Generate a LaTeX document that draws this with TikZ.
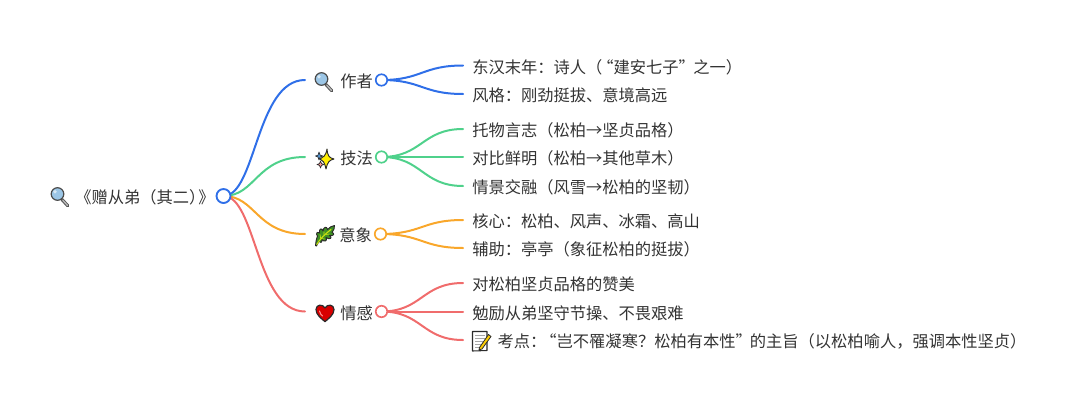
\documentclass[tikz,border=0pt]{standalone}
\usepackage{fontspec}
\setmainfont{Noto Sans CJK SC}
\usetikzlibrary{backgrounds}
\definecolor{cblue}{HTML}{2F6FE8}
\definecolor{cgreen}{HTML}{4FD18B}
\definecolor{corange}{HTML}{F9A72B}
\definecolor{cred}{HTML}{F06C6C}
\definecolor{ctext}{HTML}{333333}
\definecolor{iconline}{HTML}{2B2B2B}
\definecolor{lensblue}{HTML}{9CC6E6}
\definecolor{herbgreen}{HTML}{3F8F24}
\tikzset{
  x=0.75pt,y=-0.75pt,
  link/.style={line width=1.5pt,line cap=round},
  dotb/.style={circle,draw=#1,fill=white,line width=1.25pt,minimum size=8.6pt,inner sep=0pt},
  dotr/.style={circle,draw=#1,fill=white,line width=1.4pt,minimum size=10.5pt,inner sep=0pt},
  leaf/.style={anchor=west,inner xsep=6.75pt,inner ysep=0pt,text=ctext,text height=13.3pt,text depth=2pt,font=\fontsize{12.2pt}{14pt}\selectfont},
  branch/.style={anchor=west,inner xsep=0pt,inner ysep=0pt,text=ctext,text height=13.3pt,text depth=2pt,font=\fontsize{12.2pt}{14pt}\selectfont},
  lensicon/.pic={
    \draw[line width=2.4pt,line cap=round,draw=iconline!80] (2,2.5) -- (7.8,8.8);
    \draw[line width=1pt,line cap=round,draw=gray!55] (2.8,3.2) -- (7.5,8.4);
    \draw[line width=.9pt,draw=iconline!85,fill=lensblue] (-2.5,-3) circle[radius=6.3];
    \fill[white,opacity=.6] (-5,-5.2) circle[radius=1.9];
  },
  sparkicon/.pic={
    \draw[line width=.7pt,draw=iconline,fill=yellow!95!orange,line join=round]
      (2,-10) .. controls (2.7,-3) and (4,-1.2) .. (9,0)
      .. controls (4,1.2) and (2.7,3) .. (1,10)
      .. controls (-.5,3) and (-2,1.4) .. (-5,0)
      .. controls (-2,-1.4) and (.8,-3) .. (2,-10) -- cycle;
    \draw[line width=.5pt,draw=iconline,fill=cyan!60!blue!70,line join=round]
      (-6,-7) -- (-4.8,-3.8) -- (-2,-3) -- (-4.8,-2) -- (-6,1) -- (-7,-2) -- (-9.5,-3) -- (-7,-3.8) -- cycle;
    \draw[line width=.5pt,draw=iconline,fill=pink!80!red,line join=round]
      (-4.5,2) -- (-3.5,4.6) -- (-1,5.5) -- (-3.5,6.4) -- (-4.5,9) -- (-5.5,6.4) -- (-8,5.5) -- (-5.5,4.6) -- cycle;
  },
  herbicon/.pic={
    \draw[line width=.7pt,draw=iconline,fill=herbgreen,line join=round]
      (-9.5,9.5) .. controls (-9,5) and (-8.5,2) .. (-7.5,0)
      .. controls (-9.5,-2) and (-8,-5) .. (-5.5,-3)
      .. controls (-6.5,-7) and (-3,-9) .. (-2,-5)
      .. controls (-1.5,-9.5) and (2,-10) .. (2.5,-6.5)
      .. controls (4.5,-9) and (7,-10) .. (9.5,-10.5)
      .. controls (9.5,-8) and (9,-6) .. (7,-3.5)
      .. controls (10,-3) and (9,.5) .. (4.5,-.5)
      .. controls (8,1.5) and (5,4.5) .. (1,1.5)
      .. controls (3,5) and (-1,6.5) .. (-3,3.5)
      .. controls (-2.5,6.5) and (-5,7.5) .. (-6,5.5)
      .. controls (-7,7) and (-8,8.5) .. (-8.5,10) -- cycle;
    \draw[line width=.8pt,draw=yellow!80!green,line cap=round] (-8.3,8.5) .. controls (-5,3) and (0,-2) .. (6,-6.5);
    \draw[line width=.5pt,draw=yellow!80!green] (-4.2,3.2) -- (-5,-1.5) (-1,-.3) -- (-1,-4.5) (-3.6,2.5) -- (-.5,3) (.8,-1.5) -- (4.5,-2);
  },
  hearticon/.pic={
    \draw[line width=.9pt,draw=iconline,fill=red!85!black,line join=round]
      (0,9.2) .. controls (-3.5,6) and (-9,2.5) .. (-9,-3)
      .. controls (-9,-8) and (-2.5,-9) .. (0,-4.5)
      .. controls (2.5,-9) and (9,-8) .. (9,-3)
      .. controls (9,2.5) and (3.5,6) .. (0,9.2) -- cycle;
    \draw[line width=.8pt,draw=red!45!white,line cap=round] (-5.5,-1.5) .. controls (-5.2,1) and (-3.5,2.5) .. (-2.5,3.5);
  },
  memoicon/.pic={
    \draw[line width=.8pt,draw=iconline,fill=white,line join=round]
      (-9,-9.5) -- (5.5,-9.5) -- (5.5,9.5) -- (-9,10) -- cycle;
    \draw[line width=.5pt,draw=gray!70]
      (-6.5,-6) -- (3,-6) (-6.5,-3) -- (3,-3) (-6.5,0) -- (1,0) (-6.5,3) -- (-1,3) (-6.5,6) -- (-3,6);
    \draw[line width=.6pt,draw=iconline,fill=yellow!65!orange,line join=round]
      (-2,6.5) -- (7,-6.5) -- (9.5,-4.5) -- (0.5,8) -- (-2.5,8.8) -- cycle;
  }
}
\begin{document}
\begin{tikzpicture}
\useasboundingbox (0,0) rectangle (1080,407);

% Root
\node[branch] (root) at (75,195.5) {《赠从弟（其二）\hspace{-5.25pt}》};
\node[dotr=cblue] (rootdot) at (223.5,196) {};

% Branch labels
\node[branch] (b1) at (305,80) {\hspace{26.25pt}作者};
\node[branch] (b2) at (305,157) {\hspace{26.25pt}技法};
\node[branch] (b3) at (305,234) {\hspace{25.5pt}意象};
\node[branch] (b4) at (305,311.5) {\hspace{26.25pt}情感};

\node[dotb=cblue] (d1) at (381.5,80) {};
\node[dotb=cgreen] (d2) at (381.5,157) {};
\node[dotb=corange] (d3) at (380.5,234) {};
\node[dotb=cred] (d4) at (381.5,311.5) {};

% Leaves
\node[leaf] (l11) at (463,65.5) {东汉末年：诗人（\hspace{-3.75pt}“建安七子”\hspace{-1.2pt}之一）};
\node[leaf] (l12) at (463,94) {风格：刚劲挺拔、意境高远};
\node[leaf] (l21) at (463,129) {托物言志（松柏→坚贞品格）};
\node[leaf] (l22) at (463,157) {对比鲜明（松柏→其他草木）};
\node[leaf] (l23) at (463,186) {情景交融（风雪→松柏的坚韧）};
\node[leaf] (l31) at (463,220) {核心：松柏、风声、冰霜、高山};
\node[leaf] (l32) at (463,248) {辅助：亭亭（象征松柏的挺拔）};
\node[leaf] (l41) at (463,283) {对松柏坚贞品格的赞美};
\node[leaf] (l42) at (463,311.5) {勉励从弟坚守节操、不畏艰难};
\node[leaf] (l43) at (463,340) {\hspace{19pt}考点：\hspace{-4.5pt}“岂不罹凝寒？松柏有本性”\hspace{-1.5pt}的主旨（以松柏喻人，强调本性坚贞）};

% Icons
\pic at (60,197) {lensicon};
\pic at (324,82) {lensicon};
\pic at (325,159) {sparkicon};
\pic at (325,236) {herbicon};
\pic at (325,312.5) {hearticon};
\pic at (481.5,341) {memoicon};

\begin{scope}[on background layer]
\draw[link,cblue] (rootdot.center) .. controls (256,196) and (256,80) .. (b1.west);
\draw[link,cgreen] (rootdot.center) .. controls (256,196) and (256,157) .. (b2.west);
\draw[link,corange] (rootdot.center) .. controls (256,196) and (256,234) .. (b3.west);
\draw[link,cred] (rootdot.center) .. controls (256,196) and (256,311.5) .. (b4.west);

\draw[link,cblue] (d1.center) .. controls (422,80) and (422,65.5) .. (l11.west);
\draw[link,cblue] (d1.center) .. controls (422,80) and (422,94) .. (l12.west);
\draw[link,cgreen] (d2.center) .. controls (422,157) and (422,129) .. (l21.west);
\draw[link,cgreen] (d2.center) -- (l22.west);
\draw[link,cgreen] (d2.center) .. controls (422,157) and (422,186) .. (l23.west);
\draw[link,corange] (d3.center) .. controls (422,234) and (422,220) .. (l31.west);
\draw[link,corange] (d3.center) .. controls (422,234) and (422,248) .. (l32.west);
\draw[link,cred] (d4.center) .. controls (422,311.5) and (422,283) .. (l41.west);
\draw[link,cred] (d4.center) -- (l42.west);
\draw[link,cred] (d4.center) .. controls (422,311.5) and (422,340) .. (l43.west);
\end{scope}
\end{tikzpicture}
\end{document}
